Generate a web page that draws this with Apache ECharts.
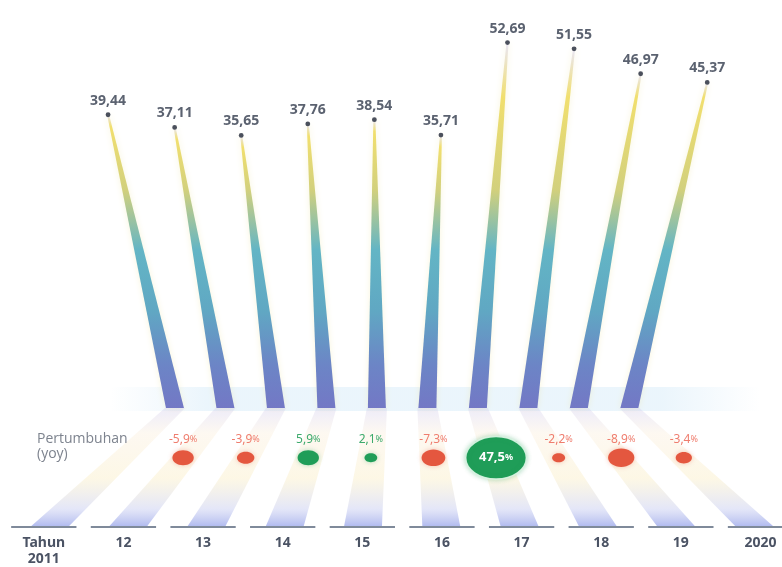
<!DOCTYPE html>
<html>
<head>
<meta charset="utf-8">
<script src="https://cdn.jsdelivr.net/npm/echarts@6/dist/echarts.min.js"></script>
<style>
  html, body { margin: 0; padding: 0; background: #ffffff; }
  #chart { width: 782px; height: 567px; }
</style>
</head>
<body>
<div id="chart"></div>
<script>
// Yearly values and year-on-year growth
const years = ['2011', '2012', '2013', '2014', '2015', '2016', '2017', '2018', '2019', '2020'];
const tickLabels = ['Tahun\n2011', '12', '13', '14', '15', '16', '17', '18', '19', '2020'];
const values = [39.44, 37.11, 35.65, 37.76, 38.54, 35.71, 52.69, 51.55, 46.97, 45.37];
const growth = [null, -5.9, -3.9, 5.9, 2.1, -7.3, 47.5, -2.2, -8.9, -3.4];
const growthTitle = ['Pertumbuhan', '(yoy)'];

// Vertical layout levels, in axis units
const Y_MIN = -36.2;      // floor line with the year labels
const Y_MAX = 60.5;
const FLOOR = -14.36;     // where the spikes land
const BUBBLE_LEVEL = -23.5;
const GROWTH_LABEL_LEVEL = -20.2;

// Horizontal extent of the year row (index units)
const X_MIN = -0.55, X_MAX = 9.27;

// Perspective spread of each layer around the centre of the row
const TOP_SPREAD = 0.836, TOP_SHIFT = 5.5;
const BASE_SPREAD = 0.634;
const BUBBLE_SPREAD = 0.786;
const SHADE_SPREAD = 0.985;

const fmtNum = (v, d) => v.toFixed(d).replace('.', ',');

function centreX(api) {
  const a = api.coord([0, 0])[0];
  const b = api.coord([years.length - 1, 0])[0];
  return (a + b) / 2;
}

function clamp01(x) { return Math.max(0, Math.min(1, x)); }

function renderSpike(params, api) {
  const i = api.value(0);
  const v = api.value(1);
  const vp = centreX(api);
  const p = api.coord([i, v]);
  const tx = vp + (p[0] - vp) * TOP_SPREAD + TOP_SHIFT;
  const ty = p[1];
  const fy = api.coord([i, FLOOR])[1];
  const bx = vp + (p[0] - vp) * BASE_SPREAD;
  const h = fy - ty;
  const off = (y) => clamp01((y - ty) / h);
  const yellowY = Math.max(ty + 12, 97);
  const grad = new echarts.graphic.LinearGradient(0, 0, 0, 1, [
    { offset: 0, color: '#e9e6f6' },
    { offset: off(yellowY), color: '#f1df6e' },
    { offset: Math.max(off(yellowY), off(190)), color: '#d2d07c' },
    { offset: off(250), color: '#63b5c5' },
    { offset: off(310), color: '#60a8c3' },
    { offset: off(365), color: '#6c85c6' },
    { offset: 1, color: '#7378c5' }
  ]);
  return {
    type: 'group',
    children: [
      {
        type: 'polygon',
        shape: { points: [[tx - 1, ty], [tx + 1, ty], [bx + 9, fy], [bx - 9, fy]] },
        style: { fill: grad, shadowBlur: 6, shadowColor: 'rgba(235,225,150,0.35)' }
      },
      {
        type: 'circle',
        shape: { cx: tx, cy: ty, r: 2.4 },
        style: { fill: '#4b505c' }
      },
      {
        type: 'text',
        style: {
          text: fmtNum(v, 2), x: tx, y: ty - 14,
          align: 'center', verticalAlign: 'middle',
          font: 'bold 14px "Noto Sans"', fill: '#5b6270'
        }
      }
    ]
  };
}

function renderShade(params, api) {
  const i = api.value(0);
  const vp = centreX(api);
  const c = api.coord([i, Y_MIN]);
  const fy = api.coord([i, FLOOR])[1];
  const bx = vp + (c[0] - vp) * BASE_SPREAD;
  const hx = vp + (c[0] - vp) * SHADE_SPREAD;
  const bw = api.size([1, 0])[0];
  const h = c[1] - fy;
  const off = (y) => clamp01((y - fy) / h);
  const grad = new echarts.graphic.LinearGradient(0, 0, 0, 1, [
    { offset: 0, color: 'rgba(205,200,240,0.35)' },
    { offset: off(fy + 25), color: 'rgba(250,236,215,0.35)' },
    { offset: off(fy + 70), color: 'rgba(250,238,198,0.45)' },
    { offset: off(c[1] - 18), color: 'rgba(205,210,242,0.55)' },
    { offset: 1, color: 'rgba(160,172,236,0.85)' }
  ]);
  return {
    type: 'group',
    children: [
      {
        type: 'polygon',
        shape: { points: [[bx - 10, fy], [bx + 10, fy], [hx + 19, c[1]], [hx - 19, c[1]]] },
        style: { fill: grad }
      },
      {
        type: 'line',
        shape: { x1: c[0] - bw * 0.41, y1: c[1], x2: c[0] + bw * 0.41, y2: c[1] },
        style: { stroke: '#7f8a9a', lineWidth: 2 }
      },
      {
        type: 'text',
        style: {
          text: tickLabels[i], x: c[0], y: c[1] + 8,
          align: 'center', verticalAlign: 'top',
          font: 'bold 14px "Noto Sans"', lineHeight: 16, fill: '#4b5364'
        }
      }
    ]
  };
}

function renderBubble(params, api) {
  const i = api.value(0);
  const g = api.value(1);
  const vp = centreX(api);
  const c = api.coord([i, BUBBLE_LEVEL]);
  const bx = vp + (c[0] - vp) * BUBBLE_SPREAD;
  const ly = api.coord([i, GROWTH_LABEL_LEVEL])[1];
  const w = 8.8 * Math.sqrt(Math.abs(g));
  const rx = w / 2, ry = w * 0.35;
  const up = g >= 0;
  const fill = up ? '#1f9d58' : '#e4573f';
  const text = fmtNum(g, 1);
  const big = rx > 20;
  const children = [
    {
      type: 'ellipse',
      shape: { cx: bx, cy: c[1], rx: rx, ry: ry },
      style: {
        fill: fill,
        stroke: big ? 'rgba(220,245,228,0.9)' : null, lineWidth: big ? 1.5 : 0,
        shadowBlur: 5, shadowColor: up ? 'rgba(40,160,90,0.35)' : 'rgba(230,90,60,0.35)'
      }
    }
  ];
  if (big) {
    children.push({
      type: 'text',
      style: {
        text: '{n|' + text + '}{p|%}', x: bx, y: c[1],
        align: 'center', verticalAlign: 'middle',
        rich: {
          n: { font: 'bold 13px "Noto Sans"', fill: '#ffffff' },
          p: { font: 'bold 9px "Noto Sans"', fill: '#ffffff' }
        }
      }
    });
  } else {
    const col = up ? '#3daa6c' : '#ef7d6e';
    children.push({
      type: 'text',
      style: {
        text: '{n|' + text + '}{p|%}', x: bx, y: ly,
        align: 'center', verticalAlign: 'middle',
        rich: {
          n: { font: '12px "Noto Sans"', fill: col },
          p: { font: '9px "Noto Sans"', fill: col }
        }
      }
    });
  }
  return { type: 'group', children: children };
}

const chart = echarts.init(document.getElementById('chart'), null, { renderer: 'canvas' });

chart.setOption({
  backgroundColor: '#ffffff',
  animation: false,
  grid: { left: 0, right: 0, top: 0, bottom: 40 },
  xAxis: {
    type: 'value',
    min: X_MIN,
    max: X_MAX,
    show: false,
    splitLine: { show: false }
  },
  yAxis: {
    type: 'value',
    min: Y_MIN,
    max: Y_MAX,
    show: false,
    splitLine: { show: false }
  },
  graphic: [
    {
      type: 'rect',
      z: 0,
      shape: { x: 110, y: 387, width: 650, height: 24 },
      style: {
        fill: new echarts.graphic.LinearGradient(0, 0, 1, 0, [
          { offset: 0, color: 'rgba(228,242,251,0)' },
          { offset: 0.15, color: 'rgba(228,242,251,0.75)' },
          { offset: 0.85, color: 'rgba(228,242,251,0.75)' },
          { offset: 1, color: 'rgba(228,242,251,0)' }
        ])
      }
    },
    {
      type: 'text',
      z: 10,
      left: 37,
      top: 432,
      style: {
        text: growthTitle.join('\n'),
        font: '14px "Open Sans"',
        lineHeight: 15,
        fill: '#7d838e'
      }
    }
  ],
  series: [
    {
      type: 'custom',
      name: 'shade',
      z: 1,
      renderItem: renderShade,
      data: values.map((v, i) => [i, v])
    },
    {
      type: 'custom',
      name: 'nilai',
      z: 3,
      renderItem: renderSpike,
      data: values.map((v, i) => [i, v])
    },
    {
      type: 'custom',
      name: 'pertumbuhan',
      z: 4,
      renderItem: renderBubble,
      data: growth.map((g, i) => [i, g]).filter(d => d[1] !== null)
    }
  ]
});
</script>
</body>
</html>
